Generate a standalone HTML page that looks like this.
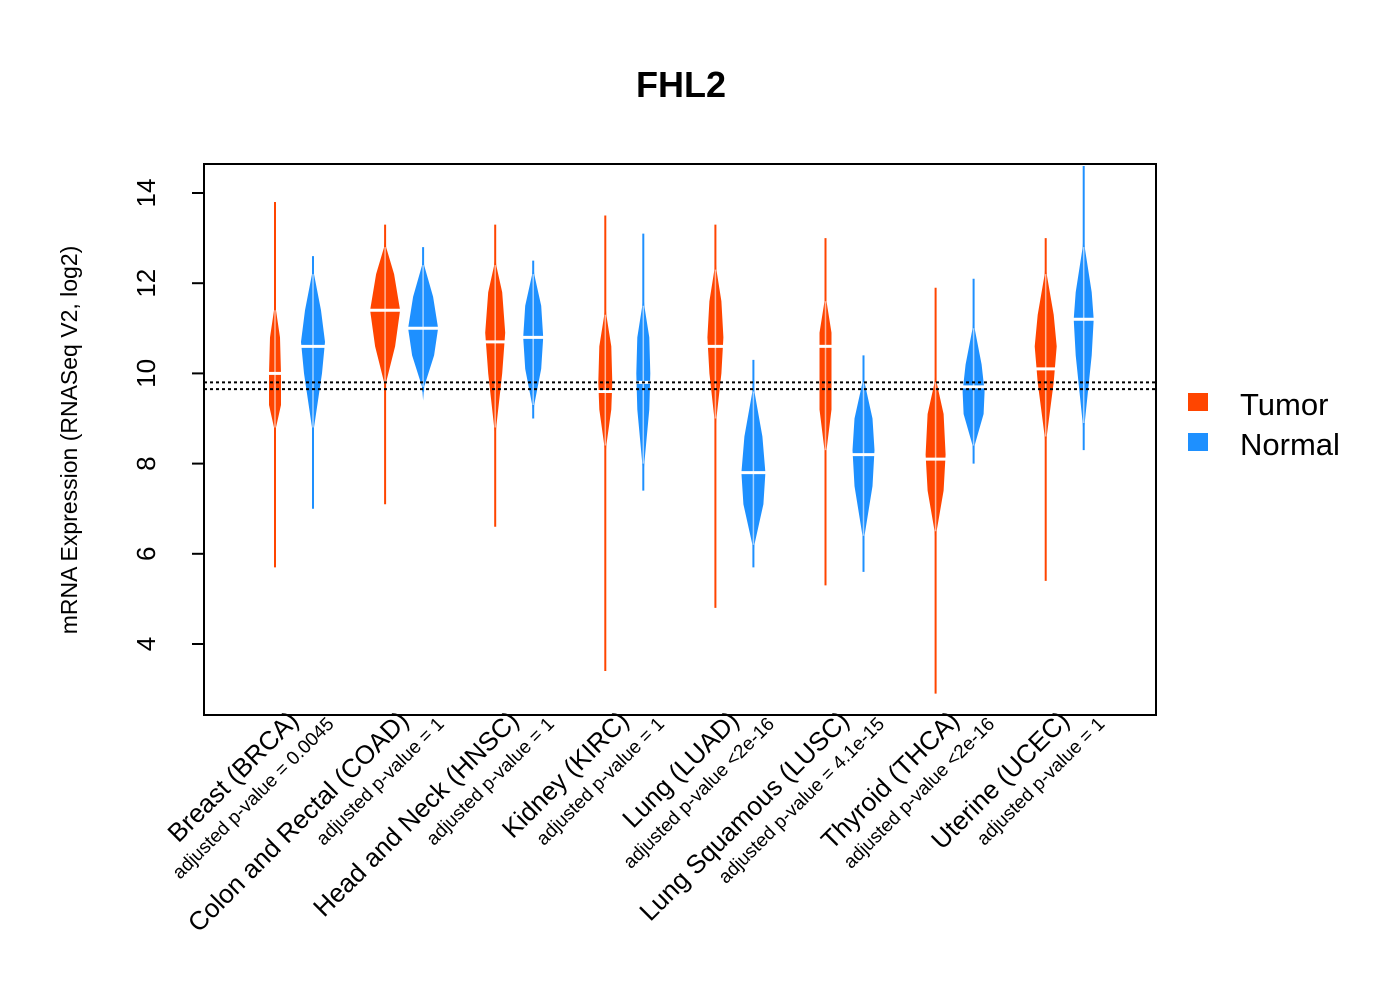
<!DOCTYPE html>
<html><head><meta charset="utf-8"><style>
body{margin:0;background:#fff}
svg{display:block;font-family:"Liberation Sans",Arial,sans-serif}
</style></head><body>
<svg id="c" width="1400" height="1000" viewBox="0 0 1400 1000"></svg>
<script>
const groups = ["Breast (BRCA)","Colon and Rectal (COAD)","Head and Neck (HNSC)","Kidney (KIRC)","Lung (LUAD)","Lung Squamous (LUSC)","Thyroid (THCA)","Uterine (UCEC)"];
const pvals = ["adjusted p-value = 0.0045","adjusted p-value = 1","adjusted p-value = 1","adjusted p-value = 1","adjusted p-value <2e-16","adjusted p-value = 4.1e-15","adjusted p-value <2e-16","adjusted p-value = 1"];
const yTicks = [4,6,8,10,12,14];
const refLines = [9.8,9.65];
// tumor beans
const tumorMin = [5.7,7.1,6.6,3.4,4.8,5.3,2.9,5.4];
const tumorMax = [13.8,13.3,13.3,13.5,13.3,13.0,11.9,13.0];
const tumorMed = [10.0,11.4,10.7,9.6,10.6,10.6,8.1,10.1];
const tumorProfV = [[8.8,9.3,10.0,10.8,11.4],[9.8,10.6,11.4,12.2,12.8],[8.8,10.0,10.9,11.8,12.4],[8.4,9.2,9.8,10.6,11.3],[9.0,10.0,10.8,11.6,12.3],[8.3,9.2,10.0,10.9,11.6],[6.5,7.4,8.2,9.1,9.8],[8.6,9.8,10.6,11.3,12.2]];
const tumorProfW = [[1,6,6,5,1],[1,10,15,9,1],[1,7,10,7,1],[1,6,7,6,1],[1,6,8,6,1],[1,6,6,6,1],[1,8,10,8,1],[1,8,11,8,1]];
// normal beans
const normalMin = [7.0,9.6,9.0,7.4,5.7,5.6,8.0,8.3];
const normalMax = [12.6,12.8,12.5,13.1,10.3,10.4,12.1,14.6];
const normalMed = [10.6,11.0,10.8,9.8,7.8,8.2,9.7,11.2];
const normalProfV = [[8.8,10.0,10.7,11.4,12.2],[9.7,10.4,11.0,11.7,12.4],[9.3,10.1,10.8,11.5,12.2],[8.0,9.2,10.0,10.8,11.5],[6.2,7.1,7.8,8.6,9.6],[6.4,7.5,8.3,9.0,9.8],[8.4,9.1,9.6,10.2,11.0],[8.9,10.4,11.2,11.8,12.8]];
const normalProfW = [[1,9,12,8,1],[1,11,15,10,1],[1,8,10,8,1],[1,6,7,6,1],[1,10,12,9,1],[1,9,11,9,1],[1,10,11,8,1],[1,8,10,8,1]];

const S="http://www.w3.org/2000/svg", svg=document.getElementById('c');
const X0=204,X1=1156,Y0=164,Y1=715;
const yS=v=>644-(v-4)*45.1;
const tX=i=>275+i*110.1, nX=i=>313+i*110.1;
function el(t,a,p){const e=document.createElementNS(S,t);for(const k in a)e.setAttribute(k,a[k]);(p||svg).appendChild(e);return e;}

const title=el('text',{x:681,y:97,'text-anchor':'middle','font-size':36,'font-weight':'bold'});title.textContent='FHL2';



function bean(cx,mn,mx,med,pv,pw,col,name){
  const g=el('g',{});
  
  
  el('line',{x1:cx,x2:cx,y1:yS(mn),y2:yS(mx),stroke:col,'stroke-width':2},g);
  let r=[],l=[];
  pv.forEach((v,k)=>{r.push([cx+pw[k],yS(v)]);l.unshift([cx-pw[k],yS(v)]);});
  const pts=[[cx,yS(pv[0]-0.3)],...r,[cx,yS(pv[pv.length-1]+0.3)],...l];
  el('polygon',{points:pts.map(p=>p.join(',')).join(' '),fill:col},g);
  const w=Math.max(...pw);
  el('line',{x1:cx-w-2,x2:cx+w+2,y1:yS(med),y2:yS(med),stroke:'#fff','stroke-width':3},g);
  el('line',{x1:cx,x2:cx,y1:yS(pv[0]),y2:yS(pv[pv.length-1]),stroke:'#fff','stroke-width':1.5,'stroke-opacity':0.6},g);
}
for(let i=0;i<8;i++){
  bean(tX(i),tumorMin[i],tumorMax[i],tumorMed[i],tumorProfV[i],tumorProfW[i],'#FF4500','tumor-bean-'+i);
  bean(nX(i),normalMin[i],normalMax[i],normalMed[i],normalProfV[i],normalProfW[i],'#1E90FF','normal-bean-'+i);
}
refLines.forEach((v,i)=>{
  const ln=el('line',{x1:X0,x2:X1,y1:yS(v),y2:yS(v),stroke:'#000','stroke-width':2,'stroke-dasharray':'3,3'});
  
  
});
const box=el('rect',{x:X0,y:Y0,width:X1-X0,height:Y1-Y0,fill:'none',stroke:'#000','stroke-width':2});



yTicks.forEach(v=>{
  el('line',{x1:X0,x2:X0-12,y1:yS(v),y2:yS(v),stroke:'#000','stroke-width':2});
  const t=el('text',{x:0,y:0,'text-anchor':'middle','font-size':26,transform:`translate(155,${yS(v)}) rotate(-90)`});
  t.textContent=v;
  
  
});
const yl=el('text',{x:0,y:0,'text-anchor':'middle','font-size':23,transform:'translate(77,440) rotate(-90)'});
yl.textContent='mRNA Expression (RNASeq V2, log2)';



groups.forEach((g,i)=>{
  const c=(tX(i)+nX(i))/2;
  const t=el('text',{x:0,y:0,'text-anchor':'end','font-size':26,transform:`translate(${c+6},${722}) rotate(-45)`});
  t.textContent=g;
  
  
  const p=el('text',{x:0,y:0,'text-anchor':'end','font-size':19,transform:`translate(${c+41},${725}) rotate(-45)`});
  p.textContent=pvals[i];
  
  
});

[['Tumor','#FF4500',393],['Normal','#1E90FF',433]].forEach(([n,c,y])=>{
  const g=el('g',{});
  
  
  el('rect',{x:1188,y:y,width:20,height:18,fill:c},g);
  const t=el('text',{x:1240,y:y+22,'font-size':31},g);t.textContent=n;
});
</script>
</body></html>
